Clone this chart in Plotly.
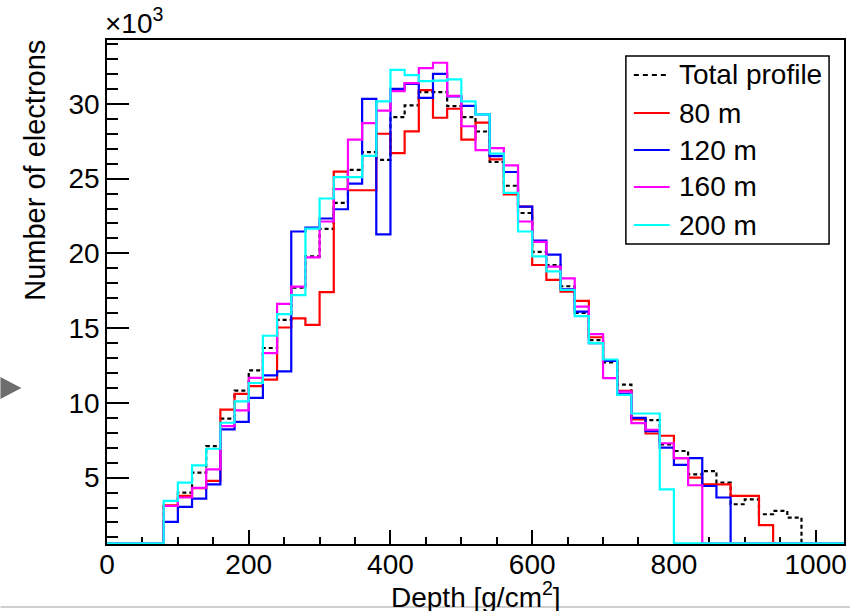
import plotly.graph_objects as go

# ---------------- data (values in units of 10^3 electrons) ----------------
bin_width = 20
bin_edges = list(range(0, 1041, bin_width))  # 0 ... 1040, 52 bins

total_profile = [0, 0, 0, 0,
                 3.1, 4.0, 5.33, 7.11, 8.95, 10.82, 12.17, 13.67, 15.55, 17.7,
                 19.8, 21.64, 23.37, 25.58, 26.77, 26.25, 29.11, 29.9, 30.78, 30.78,
                 29.85, 29.11, 28.15, 26.11, 24.52, 22.7, 20.1, 19.22, 17.8, 16.02,
                 14.2, 12.7, 11.22, 8.95, 8.84, 7.22, 6.78, 5.22, 5.44, 4.67,
                 3.22, 3.55, 2.55, 2.78, 2.33, 0, 0, 0]
m80 = [0, 0, 0, 0,
       3.15, 3.78, 4.3, 4.78, 9.55, 10.6, 11.12, 11.55, 15.04, 15.65,
       15.22, 17.4, 25.47, 24.22, 24.22, 28.0, 26.71, 28.16, 30.92, 29.07,
       29.67, 27.6, 28.75, 26.28, 23.95, 23.13, 19.22, 18.22, 17.44, 16.82,
       14.39, 12.85, 10.8, 8.9, 7.95, 7.8, 6.3, 5.0, 4.55, 4.55,
       3.78, 3.78, 1.82, 0, 0, 0, 0, 0]
m120 = [0, 0, 0, 0,
        2.04, 3.04, 3.6, 4.55, 8.22, 8.73, 10.33, 11.84, 12.1, 21.46,
        21.73, 22.33, 22.95, 24.67, 30.33, 21.27, 31.0, 31.33, 30.4, 32.0,
        30.5, 29.87, 29.3, 26.5, 25.44, 23.12, 20.86, 19.92, 17.6, 16.1,
        14.0, 12.8, 10.6, 9.0, 8.11, 7.0, 5.85, 6.3, 4.44, 3.67,
        0, 0, 0, 0, 0, 0, 0, 0]
m160 = [0, 0, 0, 0,
        3.1, 3.67, 4.31, 5.55, 8.44, 9.5, 11.67, 13.33, 16.62, 17.78,
        19.73, 22.13, 24.3, 27.6, 28.71, 29.55, 30.85, 31.38, 32.39, 32.75,
        30.53, 28.5, 26.9, 27.04, 25.89, 22.13, 20.77, 19.11, 18.33, 16.44,
        14.6, 11.65, 10.75, 8.65, 8.2, 7.3, 6.3, 4.49, 0, 0,
        0, 0, 0, 0, 0, 0, 0, 0]
m200 = [0, 0, 0, 0,
        3.44, 4.67, 5.82, 6.93, 8.67, 10.1, 11.33, 14.49, 15.93, 17.2,
        21.65, 23.67, 25.1, 25.1, 26.52, 30.16, 32.27, 31.92, 31.52, 31.55,
        31.64, 30.16, 29.3, 26.67, 24.04, 21.46, 19.8, 18.8, 17.55, 15.8,
        14.0, 12.9, 10.53, 9.29, 9.29, 4.22, 0, 0, 0, 0,
        0, 0, 0, 0, 0, 0, 0, 0]

series_names = ["Total profile", "80 m", "120 m", "160 m", "200 m"]
series_values = [total_profile, m80, m120, m160, m200]
series_colors = ["#000000", "#ff0000", "#0000ff", "#ff00ff", "#00ffff"]
series_dash = ["4px,3px", "solid", "solid", "solid", "solid"]

x_ticks = [0, 200, 400, 600, 800, 1000]
y_ticks = [5, 10, 15, 20, 25, 30]

Y_MIN, Y_MAX = 0.56, 34.27
X_MIN, X_MAX = 0, 1040

# ---------------- layout geometry ----------------
WIDTH, HEIGHT = 853, 611
L, R, T, B = 107, 847, 40, 544
PW, PH = R - L, B - T


def px_x(p):
    return (p - L) / PW


def px_y(p):
    return (B - p) / PH


FONT = "Liberation Sans, Arial, Helvetica, sans-serif"
FS = 28

fig = go.Figure()
for name, vals, col, dash in zip(series_names, series_values, series_colors, series_dash):
    shown = [max(v, Y_MIN + 0.05) for v in vals]
    fig.add_trace(go.Scatter(
        x=bin_edges,
        y=shown + [shown[-1]],
        mode="lines",
        line=dict(shape="hv", color=col, width=2.2, dash=dash),
        name=name,
        hoverinfo="skip",
        showlegend=False,
    ))

fig.update_layout(
    width=WIDTH, height=HEIGHT,
    margin=dict(l=L, r=WIDTH - R, t=T, b=HEIGHT - B),
    paper_bgcolor="white", plot_bgcolor="white",
    font=dict(family=FONT, size=FS, color="black"),
    showlegend=False,
)

fig.update_xaxes(
    range=[X_MIN, X_MAX], tickvals=x_ticks, ticktext=[str(v) for v in x_ticks],
    ticks="inside", ticklen=14, tickwidth=1.5, tickcolor="black",
    minor=dict(ticks="inside", ticklen=7, tickwidth=1.5, tickcolor="black", dtick=50, tick0=0),
    showline=True, linecolor="black", linewidth=1.5, mirror=True,
    showgrid=False, zeroline=False, ticklabelstandoff=-5, layer="below traces",
    tickfont=dict(family=FONT, size=FS, color="black"),
)
fig.update_yaxes(
    range=[Y_MIN, Y_MAX], tickvals=y_ticks, ticktext=[str(v) for v in y_ticks],
    ticks="inside", ticklen=22, tickwidth=1.5, tickcolor="black",
    minor=dict(ticks="inside", ticklen=11, tickwidth=1.5, tickcolor="black", dtick=1, tick0=0),
    showline=True, linecolor="black", linewidth=1.5, mirror=True,
    showgrid=False, zeroline=False, layer="below traces",
    tickfont=dict(family=FONT, size=FS, color="black"),
)

# axis titles and exponent label
fig.add_annotation(
    text="Depth [g/cm<sup>2</sup>]", xref="paper", yref="paper",
    x=px_x(477), y=px_y(595), xanchor="center", yanchor="middle",
    showarrow=False, font=dict(family=FONT, size=FS, color="black"),
)
fig.add_annotation(
    text="Number of electrons", xref="paper", yref="paper",
    x=px_x(34), y=px_y(38), xanchor="center", yanchor="top", textangle=-90,
    showarrow=False, font=dict(family=FONT, size=29, color="black"),
)
fig.add_annotation(
    text="×10<sup>3</sup>", xref="paper", yref="paper",
    x=px_x(103), y=px_y(41), xanchor="left", yanchor="bottom",
    showarrow=False, font=dict(family=FONT, size=FS, color="black"),
)

# legend box (drawn like the ROOT TLegend)
LEG_X0, LEG_X1, LEG_Y0, LEG_Y1 = 628, 832, 56, 244
entry_y = [75, 113, 150, 187, 225]
fig.add_shape(
    type="rect", xref="paper", yref="paper",
    x0=px_x(LEG_X0), x1=px_x(LEG_X1), y0=px_y(LEG_Y1), y1=px_y(LEG_Y0),
    line=dict(color="black", width=1.5), fillcolor="white", layer="above",
)
for name, col, dash, ey in zip(series_names, series_colors, series_dash, entry_y):
    fig.add_shape(
        type="line", xref="paper", yref="paper",
        x0=px_x(636), x1=px_x(672), y0=px_y(ey), y1=px_y(ey),
        line=dict(color=col, width=2.2, dash="5px,4px" if dash != "solid" else "solid"),
        layer="above",
    )
    fig.add_annotation(
        text=name, xref="paper", yref="paper",
        x=px_x(679), y=px_y(ey), xanchor="left", yanchor="middle",
        showarrow=False, font=dict(family=FONT, size=FS, color="black"),
    )

# screenshot decorations: grey arrow at left edge and grey line at bottom
fig.add_shape(
    type="path", xref="paper", yref="paper",
    path=f"M {px_x(0)},{px_y(377)} L {px_x(21)},{px_y(388)} L {px_x(0)},{px_y(399)} Z",
    fillcolor="#6e6e6e", line=dict(width=0),
)
fig.add_shape(
    type="line", xref="paper", yref="paper",
    x0=px_x(0), x1=px_x(WIDTH), y0=px_y(607), y1=px_y(607),
    line=dict(color="#cfcfcf", width=2),
)

fig.write_html("out.html")
